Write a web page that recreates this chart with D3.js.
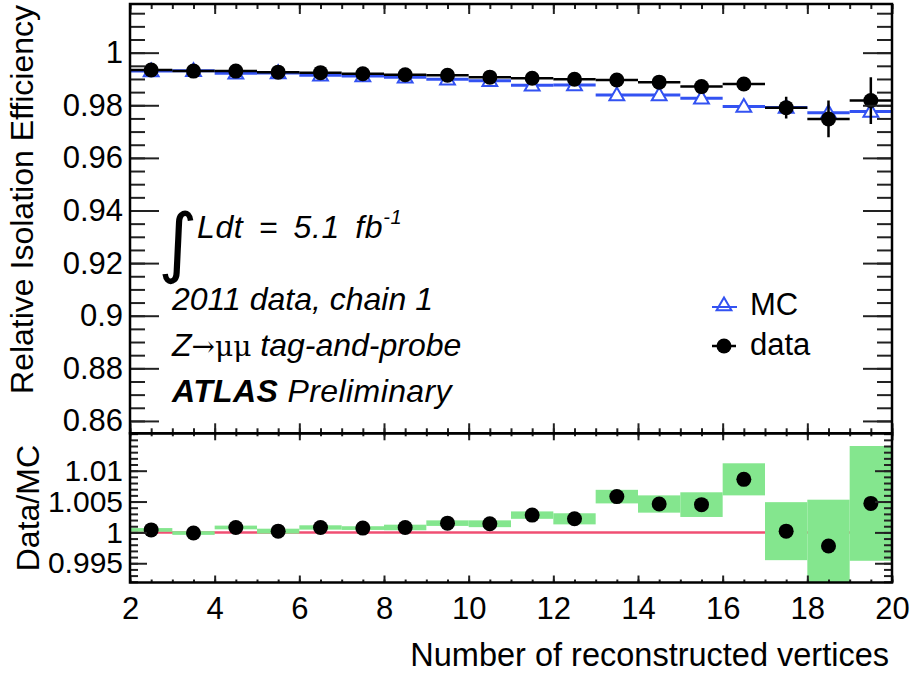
<!DOCTYPE html>
<html>
<head>
<meta charset="utf-8">
<script src="https://cdn.jsdelivr.net/npm/d3@7"></script>
<style>
  body { margin: 0; background: #fff; }
  svg { display: block; font-family: "Liberation Sans", Arial, Helvetica, sans-serif; }
</style>
</head>
<body>
<div id="chart"></div>
<script>
// bins of the number of reconstructed vertices (centres, width 1)
const binCenters = [2.5, 3.5, 4.5, 5.5, 6.5, 7.5, 8.5, 9.5, 10.5, 11.5, 12.5, 13.5, 14.5, 15.5, 16.5, 17.5, 18.5, 19.5];

const dataEff = [0.9934, 0.9930, 0.9930, 0.9926, 0.9924, 0.9920, 0.9916, 0.9914, 0.9907, 0.9903, 0.9899, 0.9896, 0.9888, 0.9871, 0.9881, 0.9791, 0.9748, 0.9818];
const dataErr = [0.0003, 0.0003, 0.0003, 0.0003, 0.0003, 0.0004, 0.0004, 0.0005, 0.0005, 0.0006, 0.0008, 0.0010, 0.0013, 0.0018, 0.0024, 0.0041, 0.0070, 0.0089];
const mcEff   = [0.9930, 0.9931, 0.9922, 0.9923, 0.9914, 0.9911, 0.9907, 0.9899, 0.9893, 0.9876, 0.9877, 0.9839, 0.9839, 0.9827, 0.9795, 0.9792, 0.9772, 0.9776];

const ratio    = [1.0004, 0.9999, 1.0008, 1.0002, 1.0008, 1.0007, 1.0008, 1.0015, 1.0014, 1.0028, 1.0022, 1.0058, 1.0046, 1.0045, 1.0086, 1.0002, 0.9978, 1.0047];
const ratioErr = [0.0003, 0.0003, 0.0003, 0.0004, 0.00035, 0.0003, 0.00045, 0.00045, 0.00055, 0.0006, 0.0009, 0.0011, 0.0014, 0.0020, 0.0026, 0.0047, 0.0075, 0.0093];

const xTicks     = [2, 4, 6, 8, 10, 12, 14, 16, 18, 20];
const effTicks   = [0.86, 0.88, 0.9, 0.92, 0.94, 0.96, 0.98, 1];
const ratioTicks = [0.995, 1, 1.005, 1.01];

const W = 912, H = 681;
const L = 130, R = 892, T = 4, MID = 433.3, B = 582.5;
const FONT = '"Liberation Sans", Arial, Helvetica, sans-serif';
const BLUE = '#3352f2', GREEN = '#84e68e', RED = '#f04f73';

const svg = d3.select('#chart').append('svg').attr('width', W).attr('height', H);

const x    = d3.scaleLinear().domain([2, 20]).range([L, R]);
const yTop = d3.scaleLinear().domain([0.8553, 1.0185]).range([MID, T]);
const yBot = d3.scaleLinear().domain([0.99188, 1.01606]).range([B, MID]);
const halfBin = 0.5;

const xMinor     = d3.range(2, 20.001, 0.5);
const effMinor   = d3.range(0.86, 1.0186, 0.005);
const ratioMinor = d3.range(0.992, 1.0161, 0.001);

svg.append('defs').append('clipPath').attr('id', 'clipBot')
  .append('rect').attr('x', L).attr('y', MID).attr('width', R - L).attr('height', B - MID);
svg.select('defs').append('clipPath').attr('id', 'clipTop')
  .append('rect').attr('x', L).attr('y', T).attr('width', R - L).attr('height', MID - T);

function styleAxis(g, showLabels) {
  g.select('.domain').remove();
  g.selectAll('.tick line').attr('stroke', '#222').attr('stroke-width', 2);
  g.selectAll('.tick text').attr('fill', '#000').style('font-family', FONT).style('font-size', '31px');
  if (!showLabels) g.selectAll('.tick text').remove();
}
function addAxis(axis, tx, ty, showLabels) {
  const g = svg.append('g').attr('transform', `translate(${tx},${ty})`).call(axis);
  styleAxis(g, showLabels);
  return g;
}

// ---- top panel ----
const gTop = svg.append('g').attr('clip-path', 'url(#clipTop)');

// MC: blue horizontal bin lines + open triangles
gTop.selectAll('line.mc').data(binCenters).enter().append('line')
  .attr('x1', d => x(d - halfBin)).attr('x2', d => x(d + halfBin))
  .attr('y1', (d, i) => yTop(mcEff[i])).attr('y2', (d, i) => yTop(mcEff[i]))
  .attr('stroke', BLUE).attr('stroke-width', 3);
gTop.selectAll('path.mc').data(binCenters).enter().append('path')
  .attr('d', d3.symbol(d3.symbolTriangle, 95))
  .attr('transform', (d, i) => `translate(${x(d)},${yTop(mcEff[i]) + 1})`)
  .attr('fill', '#fff').attr('stroke', BLUE).attr('stroke-width', 2);

// data: black error bars + filled circles
gTop.selectAll('line.dh').data(binCenters).enter().append('line')
  .attr('x1', d => x(d - halfBin)).attr('x2', d => x(d + halfBin))
  .attr('y1', (d, i) => yTop(dataEff[i])).attr('y2', (d, i) => yTop(dataEff[i]))
  .attr('stroke', '#000').attr('stroke-width', 2.5);
gTop.selectAll('line.dv').data(binCenters).enter().append('line')
  .attr('x1', d => x(d)).attr('x2', d => x(d))
  .attr('y1', (d, i) => yTop(dataEff[i] - dataErr[i])).attr('y2', (d, i) => yTop(dataEff[i] + dataErr[i]))
  .attr('stroke', '#000').attr('stroke-width', 2.5);
gTop.selectAll('circle.d').data(binCenters).enter().append('circle')
  .attr('cx', d => x(d)).attr('cy', (d, i) => yTop(dataEff[i])).attr('r', 7.5).attr('fill', '#000');

// ---- bottom panel ----
const gBot = svg.append('g').attr('clip-path', 'url(#clipBot)');
gBot.append('line')
  .attr('x1', x(2)).attr('x2', x(20)).attr('y1', yBot(1)).attr('y2', yBot(1))
  .attr('stroke', RED).attr('stroke-width', 2.5);
gBot.selectAll('rect.err').data(binCenters).enter().append('rect')
  .attr('x', d => x(d - halfBin)).attr('width', d => x(d + halfBin) - x(d - halfBin))
  .attr('y', (d, i) => yBot(ratio[i] + ratioErr[i]))
  .attr('height', (d, i) => yBot(ratio[i] - ratioErr[i]) - yBot(ratio[i] + ratioErr[i]))
  .attr('fill', GREEN);
gBot.selectAll('circle.r').data(binCenters).enter().append('circle')
  .attr('cx', d => x(d)).attr('cy', (d, i) => yBot(ratio[i])).attr('r', 7.5).attr('fill', '#000');

// ---- axes (ticks point inward, as in ROOT) ----
addAxis(d3.axisLeft(yTop).tickValues(effTicks).tickSize(-29).tickPadding(7).tickFormat(d3.format('~g')), L, 0, true);
addAxis(d3.axisLeft(yTop).tickValues(effMinor).tickSize(-15), L, 0, false);
addAxis(d3.axisRight(yTop).tickValues(effTicks).tickSize(-29), R, 0, false);
addAxis(d3.axisRight(yTop).tickValues(effMinor).tickSize(-15), R, 0, false);
addAxis(d3.axisTop(x).tickValues(xTicks).tickSize(-10), 0, T, false);
addAxis(d3.axisTop(x).tickValues(xMinor).tickSize(-5), 0, T, false);
addAxis(d3.axisBottom(x).tickValues(xTicks).tickSize(-10), 0, MID, false);
addAxis(d3.axisBottom(x).tickValues(xMinor).tickSize(-5), 0, MID, false);

const ratioAxis = addAxis(d3.axisLeft(yBot).tickValues(ratioTicks).tickSize(-17).tickPadding(7).tickFormat(d3.format('~g')), L, 0, true);
ratioAxis.selectAll('.tick text').style('font-size', '30px');
addAxis(d3.axisLeft(yBot).tickValues(ratioMinor).tickSize(-8), L, 0, false);
addAxis(d3.axisRight(yBot).tickValues(ratioTicks).tickSize(-17), R, 0, false);
addAxis(d3.axisRight(yBot).tickValues(ratioMinor).tickSize(-8), R, 0, false);
addAxis(d3.axisTop(x).tickValues(xTicks).tickSize(-7), 0, MID, false);
addAxis(d3.axisTop(x).tickValues(xMinor).tickSize(-3), 0, MID, false);
addAxis(d3.axisBottom(x).tickValues(xTicks).tickSize(-7).tickPadding(14), 0, B, true);
addAxis(d3.axisBottom(x).tickValues(xMinor).tickSize(-3), 0, B, false);

// frames
[[T, MID], [MID, B]].forEach(([y0, y1]) => {
  svg.append('rect').attr('x', L).attr('y', y0).attr('width', R - L).attr('height', y1 - y0)
    .attr('fill', 'none').attr('stroke', '#000').attr('stroke-width', 2.5);
});

// ---- axis titles ----
svg.append('text').attr('transform', 'translate(33,5) rotate(-90)').attr('text-anchor', 'end')
  .style('font-size', '32px').text('Relative Isolation Efficiency');
svg.append('text').attr('transform', 'translate(39,445) rotate(-90)').attr('text-anchor', 'end')
  .style('font-size', '32px').text('Data/MC');
svg.append('text').attr('x', 889).attr('y', 666).attr('text-anchor', 'end')
  .style('font-size', '32.5px').text('Number of reconstructed vertices');

// ---- labels ----
svg.append('text').attr('x', 158).attr('y', 268)
  .style('font-family', '"DejaVu Sans", sans-serif').style('font-size', '76px').text('\u222B');
const lumi = svg.append('text').attr('x', 197).attr('y', 238).style('font-size', '32px').style('font-style', 'italic')
  .style('word-spacing', '6px').style('letter-spacing', '0.6px');
lumi.append('tspan').text('Ldt = 5.1 fb');
lumi.append('tspan').attr('dy', -14).style('font-size', '20px').text('-1');

svg.append('text').attr('x', 172).attr('y', 310).style('font-size', '32px').style('font-style', 'italic')
  .text('2011 data, chain 1');
const zt = svg.append('text').attr('x', 172).attr('y', 356).style('font-size', '32px').style('font-style', 'italic');
zt.append('tspan').text('Z');
zt.append('tspan').style('font-style', 'normal').style('font-family', '"DejaVu Serif", serif').style('font-size', '28px').text('\u2192\u03BC\u03BC');
zt.append('tspan').text(' tag-and-probe');
const at = svg.append('text').attr('x', 172).attr('y', 402).style('font-size', '32px').style('font-style', 'italic')
  .style('letter-spacing', '0.4px');
at.append('tspan').style('font-weight', 'bold').text('ATLAS');
at.append('tspan').text(' Preliminary');

// ---- legend ----
const legend = svg.append('g');
legend.append('line').attr('x1', 712).attr('x2', 737).attr('y1', 307).attr('y2', 307).attr('stroke', BLUE).attr('stroke-width', 2);
legend.append('path').attr('d', d3.symbol(d3.symbolTriangle, 95)).attr('transform', 'translate(724,306)')
  .attr('fill', 'none').attr('stroke', BLUE).attr('stroke-width', 2);
legend.append('text').attr('x', 750).attr('y', 315).style('font-size', '31px').text('MC');
legend.append('line').attr('x1', 712).attr('x2', 736).attr('y1', 346).attr('y2', 346).attr('stroke', '#000').attr('stroke-width', 2.5);
legend.append('circle').attr('cx', 724).attr('cy', 346).attr('r', 7.5).attr('fill', '#000');
legend.append('text').attr('x', 750).attr('y', 355).style('font-size', '31px').text('data');
</script>
</body>
</html>
